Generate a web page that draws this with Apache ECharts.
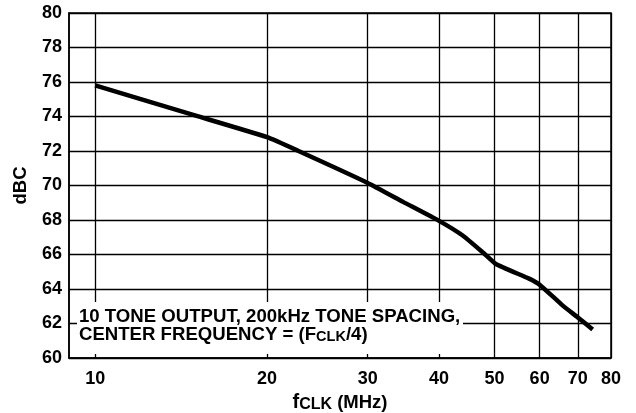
<!DOCTYPE html>
<html><head><meta charset="utf-8">
<script src="https://cdn.jsdelivr.net/npm/echarts@6/dist/echarts.min.js"></script>
<style>html,body{margin:0;padding:0;background:#fff}#c{width:636px;height:413px}</style>
</head><body><div id="c"></div>
<script>
// Data
const freqMHz = [10, 15, 20, 22.7, 30, 34.6, 40, 44, 47.8, 50.3, 57.5, 60, 65.8, 70, 74.3];
const dBC     = [75.8, 74.05, 72.8, 72.0, 70.15, 69.05, 67.95, 67.1, 66.1, 65.45, 64.6, 64.25, 63.05, 62.35, 61.65];
const xTickValues = [10, 20, 30, 40, 50, 60, 70, 80];
const yMin = 60, yMax = 80, yStep = 2;
const xMin = 9, xMax = 80;
const noteLine1 = '10 TONE OUTPUT, 200kHz TONE SPACING,';
const noteLine2 = 'CENTER FREQUENCY = (F{s|CLK}/4)';

const FONT = '"Liberation Sans", Arial, Helvetica, sans-serif';
const chart = echarts.init(document.getElementById('c'), null, {renderer: 'canvas'});
const seriesData = freqMHz.map((f, i) => [f, dBC[i]]);

chart.setOption({
  animation: false,
  backgroundColor: '#fff',
  grid: {left: 69, right: 25, top: 13, bottom: 55, containLabel: false, outerBoundsMode: 'none',
         show: true, borderColor: '#000', borderWidth: 1.5, backgroundColor: 'transparent'},
  xAxis: {
    type: 'log', logBase: 10, min: xMin, max: xMax,
    name: '{f|f}{s|CLK}{m| (MHz)}',
    nameLocation: 'middle', nameGap: 30,
    nameTextStyle: {
      rich: {
        f: {fontFamily: FONT, fontWeight: 'bold', fontSize: 20, color: '#000', lineHeight: 20, verticalAlign: 'bottom'},
        s: {fontFamily: FONT, fontWeight: 'bold', fontSize: 16, color: '#000', lineHeight: 12, verticalAlign: 'bottom'},
        m: {fontFamily: FONT, fontWeight: 'bold', fontSize: 18.5, color: '#000', lineHeight: 20, verticalAlign: 'bottom'}
      }
    },
    axisLine: {show: true, lineStyle: {color: '#000', width: 1.5}},
    axisTick: {show: false, customValues: xTickValues},
    axisLabel: {customValues: xTickValues, color: '#000', fontFamily: FONT, fontWeight: 'bold', fontSize: 18, margin: 12, formatter: v => String(Math.round(v))},
    splitLine: {show: true, lineStyle: {color: '#000', width: 1.3}},
    minorSplitLine: {show: false}
  },
  yAxis: {
    type: 'value', min: yMin, max: yMax, interval: yStep,
    name: 'dBC', nameLocation: 'middle', nameGap: 39, nameRotate: 90,
    nameTextStyle: {fontFamily: FONT, fontWeight: 'bold', fontSize: 18.5, color: '#000'},
    axisLine: {show: true, lineStyle: {color: '#000', width: 1.5}},
    axisTick: {show: false},
    axisLabel: {color: '#000', fontFamily: FONT, fontWeight: 'bold', fontSize: 18, margin: 7},
    splitLine: {show: true, lineStyle: {color: '#000', width: 1.3}}
  },
  series: [{
    type: 'line', data: seriesData, showSymbol: false, smooth: 0.15,
    lineStyle: {color: '#000', width: 4.5, cap: 'butt', join: 'round'},
    z: 5
  }],
  graphic: [
    {type: 'rect', shape: {x: 77, y: 302, width: 386, height: 52}, style: {fill: '#fff'}, z: 20},
    {type: 'text', x: 79, y: 308, z: 21, style: {
      text: noteLine1 + '\n' + noteLine2,
      fontFamily: FONT, fontWeight: 'bold', fontSize: 18.6, lineHeight: 18, fill: '#000',
      rich: {s: {fontFamily: FONT, fontWeight: 'bold', fontSize: 14.5, lineHeight: 8, verticalAlign: 'bottom', fill: '#000'}}
    }}
  ]
});
</script></body></html>
